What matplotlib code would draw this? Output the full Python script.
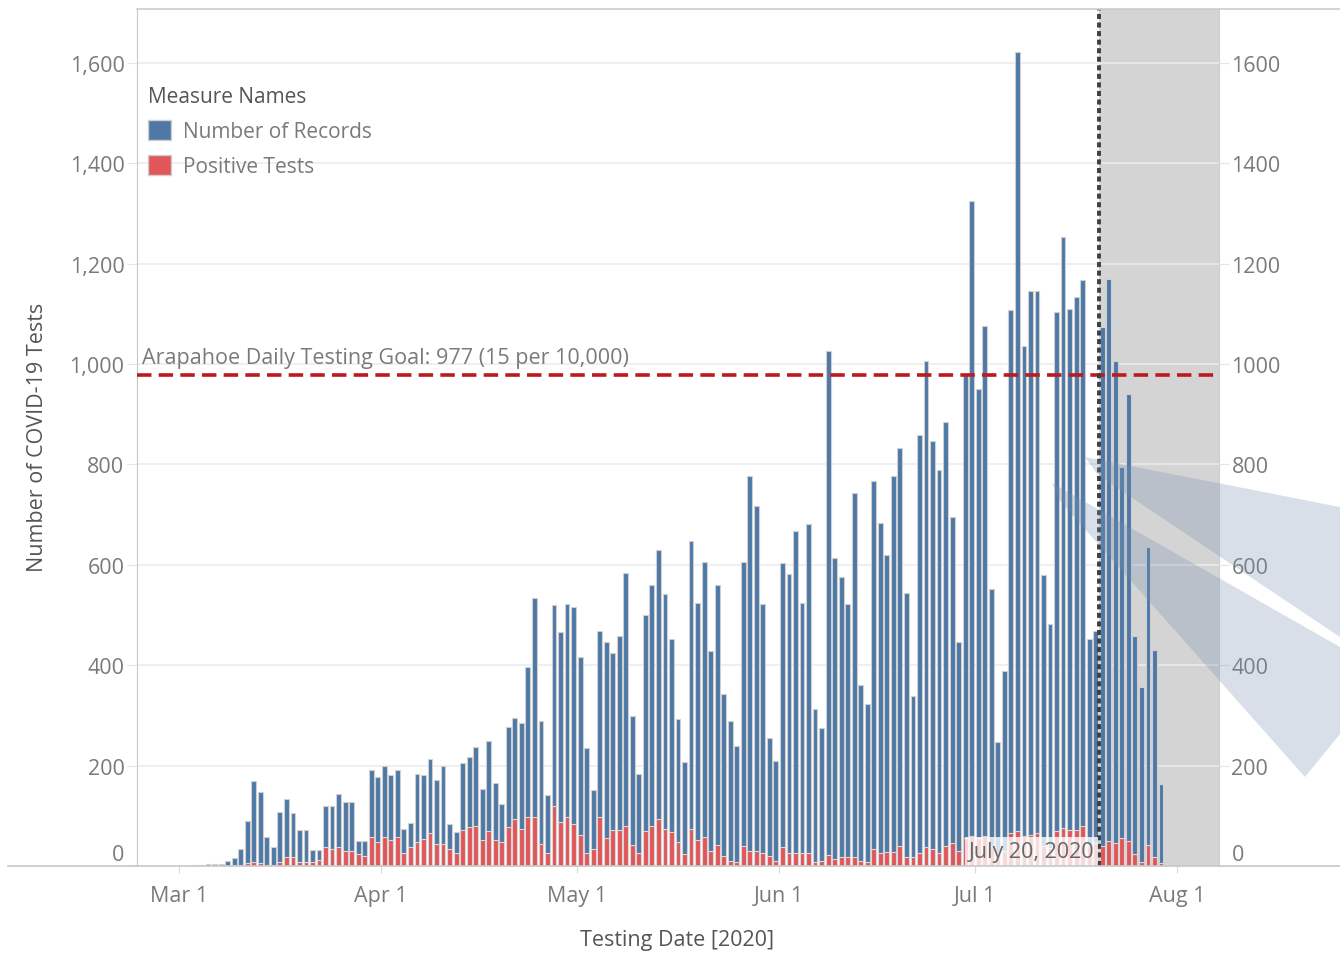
import matplotlib
matplotlib.use("Agg")
import matplotlib.pyplot as plt
import matplotlib.dates as mdates
import matplotlib.transforms as mtransforms
from matplotlib.lines import Line2D
from matplotlib.patches import Patch, Polygon
from matplotlib.ticker import FuncFormatter
import pandas as pd

plt.rcParams['font.family'] = ['Open Sans', 'DejaVu Sans']

# daily counts, first bar is 2020-03-03
start_date = "2020-03-03"
tests = [
    2, 2, 3, 4, 4, 9, 16, 34, 89, 170, 148, 58, 37, 107, 134, 106, 72, 72, 32, 32,
    120, 120, 143, 128, 127, 50, 50, 192, 177, 199, 181, 192, 74, 85, 183, 181, 213, 172, 199, 84,
    68, 205, 217, 237, 154, 249, 165, 124, 277, 294, 285, 396, 533, 288, 142, 519, 467, 521, 516, 417,
    235, 152, 468, 447, 424, 458, 584, 298, 183, 499, 560, 630, 542, 453, 292, 208, 647, 524, 606, 428,
    560, 342, 289, 240, 606, 777, 718, 521, 255, 210, 603, 581, 667, 524, 682, 313, 275, 1025, 613, 575,
    521, 742, 360, 322, 767, 684, 620, 777, 833, 543, 339, 859, 1006, 846, 789, 884, 696, 446, 978, 1324,
    950, 1076, 552, 246, 389, 1107, 1621, 1036, 1146, 1146, 579, 483, 1104, 1252, 1110, 1134, 1167, 452, 468, 1074,
    1170, 1005, 794, 941, 458, 357, 636, 431, 163,
]
positives = [
    0, 0, 0, 0, 0, 0, 1, 1, 5, 8, 5, 1, 1, 7, 18, 18, 7, 7, 7, 11,
    37, 33, 37, 29, 29, 24, 19, 58, 47, 58, 52, 58, 26, 37, 47, 53, 66, 44, 44, 33,
    26, 72, 77, 80, 51, 70, 51, 47, 77, 94, 74, 97, 97, 44, 26, 119, 87, 98, 83, 61,
    26, 33, 98, 55, 72, 72, 80, 41, 26, 70, 80, 94, 74, 67, 48, 23, 74, 52, 58, 29,
    41, 19, 10, 7, 40, 29, 30, 25, 19, 10, 37, 25, 25, 25, 25, 7, 10, 21, 13, 18,
    18, 18, 10, 7, 33, 25, 28, 28, 40, 17, 17, 25, 37, 33, 25, 40, 45, 30, 55, 60,
    55, 60, 40, 20, 30, 65, 70, 60, 62, 65, 40, 35, 70, 75, 72, 72, 80, 40, 45, 40,
    50, 46, 55, 50, 24, 8, 42, 18, 6,
]
goal = 977
goal_text = "Arapahoe Daily Testing Goal: 977 (15 per 10,000)"
cutoff_date = "2020-07-20"
cutoff_text = "July 20, 2020"
tick_dates = ["2020-03-01", "2020-04-01", "2020-05-01", "2020-06-01", "2020-07-01", "2020-08-01"]
tick_labels = ["Mar 1", "Apr 1", "May 1", "Jun 1", "Jul 1", "Aug 1"]
y_ticks = [0, 200, 400, 600, 800, 1000, 1200, 1400, 1600]

blue = '#4e79a7'
red = '#e15759'
grey_txt = '#7a7a7a'
dark_txt = '#555555'

W, H = 1340, 954


def fx(p):
    return p / W


def fy(p):
    return 1 - p / H


dates = pd.date_range(start_date, periods=len(tests), freq="D")
x = mdates.date2num(dates) + 0.5
mar1 = mdates.date2num(pd.Timestamp("2020-03-01"))
cutoff = mdates.date2num(pd.Timestamp(cutoff_date))
x_lo, x_hi = mar1 - 6.39, mar1 + 159.39

fig = plt.figure(figsize=(13.4, 9.54), dpi=100)
ax = fig.add_axes([fx(137), fy(867), fx(1219) - fx(137), fy(10) - fy(867)])
ax.set_xlim(x_lo, x_hi)
ax.set_ylim(0, 1707)

ax.axvspan(cutoff, x_hi, color='#d4d4d4', lw=0, zorder=0)
for yt in y_ticks[1:]:
    ax.axhline(yt, color='#ececec', lw=1.2, zorder=0.5)

ax.bar(x, tests, width=0.74, color=blue, edgecolor='#d0d0d0', linewidth=0.8, zorder=2)
ax.bar(x, positives, width=0.74, color=red, edgecolor='#d8d8d8', linewidth=0.8, zorder=3)

ax.axhline(goal, color='#bb1a1f', lw=2.6, dashes=(4, 2), zorder=4)
ax.axvline(cutoff, color='#3f3f3f', lw=2.8, dashes=(1.3, 0.9), zorder=5)

blend = mtransforms.blended_transform_factory(ax.transAxes, ax.transData)
ax.text(0.005, 1013, goal_text, transform=blend, fontsize=15.5, color=grey_txt,
        va='center', ha='left', zorder=6)
ax.text(cutoff - 0.7, 28, cutoff_text, fontsize=15.5, color='#666666', ha='right', va='center',
        zorder=6, bbox=dict(facecolor='white', alpha=0.78, edgecolor='none', pad=3))

# axes styling
for s in ['top', 'right', 'bottom']:
    ax.spines[s].set_visible(False)
ax.spines['left'].set_color('#c8c8c8')
ax.set_yticks(y_ticks)
ax.yaxis.set_major_formatter(FuncFormatter(lambda v, p: '{:,}'.format(int(v))))
ax.tick_params(axis='y', labelsize=15.5, labelcolor=grey_txt, length=7, color='#e6e6e6', pad=2)
ax.set_xticks(mdates.date2num(pd.to_datetime(tick_dates)))
ax.set_xticklabels(tick_labels)
ax.tick_params(axis='x', labelsize=15.5, labelcolor=grey_txt, length=5, color='#d8d8d8', pad=9)

ax2 = ax.twinx()
ax2.set_ylim(0, 1707)
ax2.set_yticks(y_ticks)
ax2.yaxis.set_major_formatter(FuncFormatter(lambda v, p: '{}'.format(int(v))))
ax2.tick_params(axis='y', labelsize=15.5, labelcolor=grey_txt, length=7, color='#e6e6e6', pad=2)
for s in ['top', 'left', 'bottom']:
    ax2.spines[s].set_visible(False)
ax2.spines['right'].set_color('#cfcfcf')

# lift the 0 labels a bit like the original
shift = mtransforms.ScaledTranslation(0, 0.14, fig.dpi_scale_trans)
t0 = ax.yaxis.get_major_ticks()[0].label1
t0.set_transform(t0.get_transform() + shift)
t2 = ax2.yaxis.get_major_ticks()[0].label2
t2.set_transform(t2.get_transform() + shift)

leg = ax.legend(handles=[Patch(facecolor=blue, edgecolor='#cfcfcf', label='Number of Records'),
                         Patch(facecolor=red, edgecolor='#cfcfcf', label='Positive Tests')],
                title='Measure Names', loc='upper left', bbox_to_anchor=(0.001, 0.922),
                frameon=False, fontsize=15, title_fontsize=15, alignment='left',
                handlelength=1.1, handleheight=1.1, handletextpad=0.55, labelspacing=0.62,
                borderpad=0, labelcolor=grey_txt)
leg.get_title().set_color(dark_txt)

fig.text(fx(38), fy(437), "Number of COVID-19 Tests", rotation=90, fontsize=15.5,
         color=dark_txt, ha='center', va='center')
fig.text(fx(677), fy(941), "Testing Date [2020]", fontsize=15.5, color=dark_txt,
         ha='center', va='center')

# frame lines that run past the plot area
fig.add_artist(Line2D([fx(8), 1], [fy(867), fy(867)], color='#c8c8c8', lw=1.2))
fig.add_artist(Line2D([fx(137), 1], [fy(10), fy(10)], color='#cccccc', lw=1.2))

# translucent wedges on the right
band_pts = [
    [(1085, 458), (1340, 508), (1340, 638), (1098, 476)],
    [(1052, 484), (1340, 648), (1340, 735), (1305, 778), (1060, 502)],
]
for pts in band_pts:
    fig.add_artist(Polygon([(fx(a), fy(b)) for a, b in pts], closed=True,
                           transform=fig.transFigure, facecolor='#738faf', alpha=0.28,
                           edgecolor='none', zorder=10))

fig.savefig("out.png", dpi=100)
